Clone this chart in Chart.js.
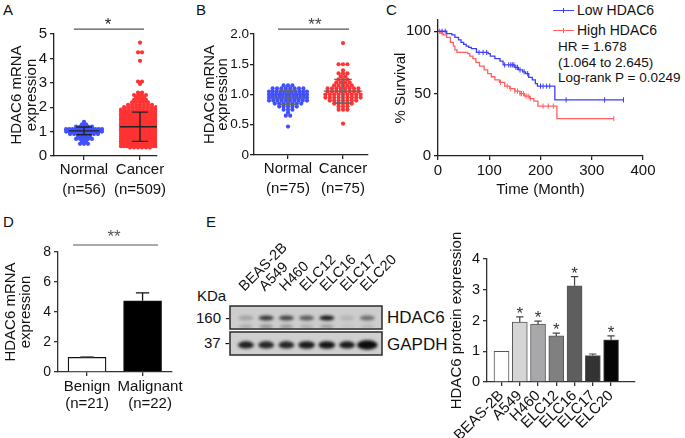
<!DOCTYPE html>
<html>
<head>
<meta charset="utf-8">
<title>HDAC6 expression in lung cancer</title>
<script src="https://cdn.jsdelivr.net/npm/chart.js@4.4.1/dist/chart.umd.min.js"></script>
<style>
  body { margin: 0; background: #fff; }
  #fig { position: relative; width: 685px; height: 438px; overflow: hidden; font-family: 'Liberation Sans', Arial, sans-serif; color: #111; }
  #fig canvas { position: absolute; }
  .t { position: absolute; white-space: nowrap; line-height: 1; }
  .key { position: absolute; width: 21px; height: 0; border-top: 1.3px solid; }
  .key i { position: absolute; left: 10px; top: -3.5px; height: 5px; border-left: 1px solid; }
</style>
</head>
<body>
<div id="fig">
  <div class="t" style="left:3px;top:2px;font-size:15px">A</div>
  <div class="t" style="left:196px;top:2px;font-size:15px">B</div>
  <div class="t" style="left:386px;top:2px;font-size:15px">C</div>
  <div class="t" style="left:3px;top:214px;font-size:15px">D</div>
  <div class="t" style="left:206px;top:214px;font-size:15px">E</div>

  <!-- KM legend and stats -->
  <div class="key" style="left:553px;top:10px;border-color:#3c3cff;color:#3c3cff"><i></i></div>
  <div class="t" style="left:577px;top:3px;font-size:14px">Low HDAC6</div>
  <div class="key" style="left:553px;top:30px;border-color:#ff6060;color:#ff6060"><i></i></div>
  <div class="t" style="left:577px;top:23px;font-size:14px">High HDAC6</div>
  <div class="t" style="left:558px;top:40px;font-size:13.5px">HR = 1.678</div>
  <div class="t" style="left:558px;top:56px;font-size:13.5px">(1.064 to 2.645)</div>
  <div class="t" style="left:558px;top:71px;font-size:13.5px">Log-rank P = 0.0249</div>

  <!-- blot side labels -->
  <div class="t" style="left:197px;top:288px;font-size:15px">KDa</div>
  <div class="t" style="left:196px;top:310px;font-size:15px">160 -</div>
  <div class="t" style="left:204px;top:335px;font-size:15px">37 -</div>
  <div class="t" style="left:387px;top:309px;font-size:17px">HDAC6</div>
  <div class="t" style="left:387px;top:336px;font-size:17px">GAPDH</div>

  <canvas id="chA" width="190" height="195" style="left:0;top:10px"></canvas>
  <canvas id="chB" width="195" height="195" style="left:190px;top:10px"></canvas>
  <canvas id="chC" width="300" height="205" style="left:385px;top:0"></canvas>
  <canvas id="chD" width="200" height="200" style="left:0;top:222px"></canvas>
  <canvas id="chBlot" width="195" height="125" style="left:225px;top:235px"></canvas>
  <canvas id="chE" width="240" height="213" style="left:445px;top:225px"></canvas>
</div>

<script>
// ============ DATA ============
// A: mRNA, dots per expression level
const groupsA = ['Normal', 'Cancer'];
const nA = [56, 509];
const normalALevels = [0.5, 0.6, 0.7, 0.8, 0.9, 1.0, 1.1, 1.2, 1.3, 1.4];
const normalACounts = [3, 2, 5, 4, 8, 14, 12, 5, 2, 1];
const cancerALevels = [0.35, 0.4, 0.5, 0.6, 0.7, 0.8, 0.9, 1.0, 1.1, 1.2, 1.3, 1.4, 1.5, 1.6, 1.7, 1.8, 1.9, 2.0, 2.1, 2.2, 2.3, 2.4, 2.5, 2.6, 2.95, 3.05, 3.9, 4.25, 4.65];
const cancerACounts = [6, 14, 33, 38, 40, 42, 41, 40, 37, 34, 30, 27, 24, 20, 17, 14, 11, 9, 7, 5, 4, 3, 4, 2, 1, 2, 1, 2, 1];
const meanA = [1.03, 1.2];
const sdA = [0.16, 0.6];
const yTicksA = [0, 1, 2, 3, 4, 5];

// B: paired mRNA
const groupsB = ['Normal', 'Cancer'];
const nB = [75, 75];
const normalBLevels = [0.47, 0.65, 0.7, 0.75, 0.8, 0.85, 0.9, 0.95, 1.0, 1.05, 1.1, 1.15];
const normalBCounts = [1, 2, 1, 3, 5, 7, 10, 12, 12, 11, 8, 3];
const cancerBLevels = [0.52, 0.75, 0.8, 0.85, 0.9, 0.95, 1.0, 1.05, 1.1, 1.15, 1.2, 1.25, 1.3, 1.35, 1.4, 1.5, 1.85];
const cancerBCounts = [1, 3, 3, 5, 7, 9, 9, 8, 8, 5, 4, 3, 2, 3, 1, 3, 1];
const meanB = [0.95, 1.055];
const sdB = [0.115, 0.195];
const yTicksB = [0, 0.5, 1.0, 1.5, 2.0];

// C: Kaplan-Meier (time in months, % survival after each step)
const lowTime = [0, 17, 27, 33, 40, 45, 50, 55, 60, 65, 75, 98, 102, 111, 121, 127, 150, 157, 165, 171, 177, 184, 190, 194, 228, 362];
const lowSurv = [100, 98, 97, 95, 93, 91, 89.5, 88, 87, 86, 83, 82, 80, 78, 76, 73, 71, 69, 67.5, 66, 63, 61, 58, 56, 45, 45];
const highTime = [0, 5, 10, 17, 24, 30, 33, 37, 58, 62, 68, 74, 81, 90, 97, 104, 111, 120, 130, 140, 150, 160, 169, 179, 187, 195, 232, 343];
const highSurv = [100, 98.5, 97, 95, 91, 88, 85, 83, 82, 80, 78, 75, 72, 69, 66, 63.5, 61, 59, 56, 54, 52, 50, 48, 46, 44, 40, 30, 30];
const lowCensor = [8, 14, 80, 88, 95, 130, 138, 142, 145, 148, 152, 155, 160, 168, 175, 200, 205, 212, 218, 250, 325, 362];
const highCensor = [3, 8, 122, 135, 141, 150, 155, 160, 163, 167, 172, 176, 180, 205, 215, 225, 343];
const xTicksC = [0, 100, 200, 300, 400];
const yTicksC = [0, 50, 100];

// D: benign vs malignant
const groupsD = ['Benign', 'Malignant'];
const nD = [21, 22];
const valuesD = [0.98, 4.75];
const errD = [0.05, 0.53];
const yTicksD = [0, 2, 4, 6, 8];

// E: cell lines, western blot and quantification
const cellLines = ['BEAS-2B', 'A549', 'H460', 'ELC12', 'ELC16', 'ELC17', 'ELC20'];
const hdac6Band = [0.22, 0.78, 0.72, 0.6, 0.95, 0.12, 0.5];
const hdac6Lower = [0.18, 0.3, 0.28, 0.16, 0.25, 0.06, 0.1];
const gapdhBand = [0.9, 0.88, 0.88, 0.93, 0.96, 0.93, 1.0];
const gapdhSpread = [1, 1, 1, 1.05, 1.05, 1, 1.3];
const proteinE = [1.0, 1.95, 1.88, 1.5, 3.13, 0.86, 1.37];
const errE = [0, 0.17, 0.1, 0.09, 0.3, 0.05, 0.13];
const sigE = [false, true, true, true, true, false, true];
const yTicksE = [0, 1, 2, 3, 4];

// ============ STYLE ============
const INK = '#111';
const AXIS = '#222';
const BLUE = '#4050ff';
const RED = '#ff3333';
const barColorsE = ['#ffffff', '#d5d5d5', '#a8a8ab', '#808080', '#5e5e5e', '#333333', '#050505'];

Chart.defaults.font.family = "'Liberation Sans', Arial, sans-serif";
Chart.defaults.color = INK;
Chart.defaults.animation = false;
Chart.defaults.responsive = false;
Chart.defaults.events = [];
Chart.defaults.plugins.legend.display = false;
Chart.defaults.plugins.tooltip.enabled = false;

// asterisks drawn at data positions
Chart.register({
  id: 'stars',
  afterDatasetsDraw(chart, args, opts) {
    if (!opts.items || !opts.items.length) return;
    const {ctx, scales: {x, y}} = chart;
    ctx.save();
    ctx.font = `${opts.size || 16}px 'Liberation Sans', Arial, sans-serif`;
    ctx.fillStyle = opts.color || '#333';
    ctx.textAlign = 'center';
    ctx.textBaseline = 'alphabetic';
    opts.items.forEach(it => ctx.fillText(it.text, x.getPixelForValue(it.x), y.getPixelForValue(it.y) + (opts.dy || 0)));
    ctx.restore();
  }
});

// ============ HELPERS ============
function swarm(levels, counts, center, step, maxWidth) {
  const pts = [];
  levels.forEach((v, li) => {
    const n = counts[li];
    const sp = n > 1 ? Math.min(step, maxWidth / (n - 1)) : 0;
    for (let i = 0; i < n; i++) pts.push({x: center + (i - (n - 1) / 2) * sp, y: v});
  });
  return pts;
}

function meanSdPoints(centers, means, sds, halfMean, halfCap) {
  const pts = [];
  centers.forEach((c, i) => {
    const m = means[i], hi = m + sds[i], lo = m - sds[i];
    pts.push({x: c - halfMean[i], y: m}, {x: c + halfMean[i], y: m}, {x: c, y: null});
    pts.push({x: c, y: lo}, {x: c, y: hi}, {x: c, y: null});
    pts.push({x: c - halfCap, y: hi}, {x: c + halfCap, y: hi}, {x: c, y: null});
    pts.push({x: c - halfCap, y: lo}, {x: c + halfCap, y: lo}, {x: c, y: null});
  });
  return pts;
}

function errorPoints(xs, vals, errs, cap) {
  const pts = [];
  xs.forEach((x, i) => {
    if (!errs[i]) return;
    const top = vals[i] + errs[i];
    pts.push({x, y: vals[i]}, {x, y: top}, {x, y: null}, {x: x - cap, y: top}, {x: x + cap, y: top}, {x, y: null});
  });
  return pts;
}

function lineSet(data, color, width, extra) {
  return Object.assign({type: 'line', data, showLine: true, borderColor: color, borderWidth: width || 1.3,
    pointRadius: 0, spanGaps: false, fill: false, order: 0}, extra || {});
}

function dotSet(data, color, r) {
  return {type: 'scatter', data, showLine: false, pointRadius: r || 2.1, pointBorderWidth: 0,
    pointBackgroundColor: color, order: 2};
}

function valueAxis(o) {
  return {
    type: 'linear', min: o.min, max: o.max,
    afterFit: s => { s.width = o.w; },
    afterBuildTicks: s => { s.ticks = o.ticks.map(v => ({value: v})); },
    border: {display: true, color: o.axis || AXIS, width: 1.3},
    grid: {drawOnChartArea: false, tickLength: 4, color: o.axis || AXIS, lineWidth: 1.3},
    ticks: {color: INK, font: {size: o.size || 15}, padding: o.pad == null ? 3 : o.pad, callback: o.fmt || (v => v)},
    title: {display: true, text: o.title, color: INK, font: {size: 15, lineHeight: o.lh || 0.95},
      padding: {top: o.tpad, bottom: 0}}
  };
}

function groupAxis(o) {
  return {
    type: 'linear', min: o.min, max: o.max, offset: false,
    afterFit: s => { s.height = o.h; },
    afterBuildTicks: s => { s.ticks = o.ticks.map(v => ({value: v})); },
    border: {display: true, color: o.axis || AXIS, width: 1.3},
    grid: {drawOnChartArea: false, offset: false, tickLength: 4, color: o.axis || AXIS, lineWidth: 1.3},
    ticks: {color: INK, font: {size: o.size || 15, lineHeight: o.lh || 1.33}, padding: o.pad || 0,
      autoSkip: false, minRotation: o.rot || 0, maxRotation: o.rot || 0, callback: o.fmt},
    title: o.title ? {display: true, text: o.title, color: INK, font: {size: 15}, padding: {top: 0, bottom: o.tpad || 0}} : {display: false}
  };
}

// ============ A ============
new Chart(document.getElementById('chA'), {
  type: 'scatter',
  data: {datasets: [
    lineSet(meanSdPoints([1, 2], meanA, sdA, [0.27, 0.36], 0.14), '#222', 1.4),
    dotSet(swarm(normalALevels, normalACounts, 1, 0.071, 0.64), BLUE),
    dotSet(swarm(cancerALevels, cancerACounts, 2, 0.071, 0.68), RED),
    lineSet([{x: 0.82, y: 5.2}, {x: 2.07, y: 5.2}], '#555', 1.1, {clip: false})
  ]},
  options: {
    layout: {padding: {top: 24, right: 33, left: 0, bottom: 0}},
    scales: {
      x: groupAxis({min: 0.464, max: 2.303, h: 49, ticks: [1, 2], pad: 0,
        fmt: v => [groupsA[v - 1], `(n=${nA[v - 1]})`]}),
      y: valueAxis({min: 0, max: 5, w: 54, ticks: yTicksA, tpad: 10, title: ['HDAC6 mRNA', 'expression']})
    },
    plugins: {stars: {items: [{x: 1.43, y: 5.2, text: '*'}], dy: 1, size: 17, color: '#222'}}
  }
});

// ============ B ============
new Chart(document.getElementById('chB'), {
  type: 'scatter',
  data: {datasets: [
    lineSet(meanSdPoints([1, 2], meanB, sdB, [0.31, 0.35], 0.16), '#666', 1.4),
    dotSet(swarm(normalBLevels, normalBCounts, 1, 0.08, 0.69), BLUE, 2.1),
    dotSet(swarm(cancerBLevels, cancerBCounts, 2, 0.08, 0.69), RED, 2.1),
    lineSet([{x: 0.818, y: 2.08}, {x: 2.109, y: 2.08}], '#555', 1.1, {clip: false})
  ]},
  options: {
    layout: {padding: {top: 24, right: 17, left: 0, bottom: 0}},
    scales: {
      x: groupAxis({min: 0.3818, max: 2.4545, h: 50, ticks: [1, 2], pad: 0,
        fmt: v => [groupsB[v - 1], `(n=${nB[v - 1]})`]}),
      y: valueAxis({min: 0, max: 2, w: 64, ticks: yTicksB, tpad: 13, size: 13.5, pad: 1, lh: 0.9,
        title: ['HDAC6 mRNA', 'expression'], fmt: v => v === 0 ? '0' : v.toFixed(1)})
    },
    plugins: {stars: {items: [{x: 1.49, y: 2.08, text: '**'}], dy: 1, size: 17, color: '#444'}}
  }
});

// ============ C ============
const stepAt = (times, surv, t) => {
  let s = surv[0];
  times.forEach((tt, i) => { if (tt <= t) s = surv[i]; });
  return s;
};
const kmBlue = '#3c3cff', kmRed = '#ff6060';
new Chart(document.getElementById('chC'), {
  type: 'scatter',
  data: {datasets: [
    lineSet(lowTime.map((t, i) => ({x: t, y: lowSurv[i]})), kmBlue, 1.3, {stepped: 'before'}),
    lineSet(highTime.map((t, i) => ({x: t, y: highSurv[i]})), kmRed, 1.3, {stepped: 'before'}),
    {type: 'scatter', data: lowCensor.map(t => ({x: t, y: stepAt(lowTime, lowSurv, t)})), pointStyle: 'line',
      rotation: 90, pointRadius: 2.6, pointBorderWidth: 1, pointBorderColor: kmBlue, showLine: false},
    {type: 'scatter', data: highCensor.map(t => ({x: t, y: stepAt(highTime, highSurv, t)})), pointStyle: 'line',
      rotation: 90, pointRadius: 2.6, pointBorderWidth: 1, pointBorderColor: kmRed, showLine: false}
  ]},
  options: {
    layout: {padding: {top: 20, right: 42, left: 0, bottom: 0}},
    scales: {
      x: groupAxis({min: 0, max: 400, h: 49, ticks: xTicksC, pad: 2, lh: 1.2, fmt: v => v,
        title: 'Time (Month)', tpad: 6}),
      y: valueAxis({min: 0, max: 109, w: 53, ticks: yTicksC, tpad: 8, title: '% Survival', lh: 1})
    }
  }
});

// ============ D ============
new Chart(document.getElementById('chD'), {
  type: 'bar',
  data: {datasets: [
    {type: 'bar', data: valuesD.map((v, i) => ({x: i + 1, y: v})), backgroundColor: ['#ffffff', '#000000'],
      borderColor: '#111', borderWidth: 1.3, barThickness: 38, order: 2},
    lineSet(errorPoints([1], [valuesD[0]], [errD[0]], 0.12), '#777', 1.3),
    lineSet(errorPoints([2], [valuesD[1]], [errD[1]], 0.12), '#111', 1.3),
    lineSet([{x: 0.747, y: 8.47}, {x: 2.279, y: 8.47}], '#555', 1.1, {clip: false})
  ]},
  options: {
    layout: {padding: {top: 30, right: 28, left: 0, bottom: 0}},
    scales: {
      x: groupAxis({min: 0.477, max: 2.53, h: 50, ticks: [1, 2], pad: 2, lh: 1.17, axis: '#333',
        fmt: v => v === 2 ? ['\u2002\u2002' + groupsD[1], '\u2002\u2002' + `(n=${nD[1]})`] : [groupsD[0], `(n=${nD[0]})`]}),
      y: valueAxis({min: 0, max: 8, w: 58, ticks: yTicksD, tpad: 3.5, size: 14, axis: '#333',
        title: ['HDAC6 mRNA', 'expression'], lh: 1})
    },
    plugins: {stars: {items: [{x: 1.486, y: 8.47, text: '**'}], dy: -2.5, size: 17, color: '#555'}}
  }
});

// ============ E: blot ============
const blotPlugin = {
  id: 'blot',
  beforeDatasetsDraw(chart) {
    const {ctx, scales: {lanes, y}} = chart;
    const left = chart.chartArea.left, right = chart.chartArea.right;
    const rows = [
      {top: 2, bottom: 1.06, bg: '#cdcdcd', bands: [
        {y: 1.51, alpha: hdac6Band, rx: 7.5, ry: 2.6, spread: null},
        {y: 1.16, alpha: hdac6Lower, rx: 7, ry: 2, spread: null}]},
      {top: 0.94, bottom: 0, bg: '#cfcfcf', bands: [
        {y: 0.41, alpha: gapdhBand, rx: 8, ry: 3.6, spread: gapdhSpread}]}
    ];
    ctx.save();
    rows.forEach(row => {
      const t = y.getPixelForValue(row.top), b = y.getPixelForValue(row.bottom);
      ctx.save();
      ctx.fillStyle = row.bg;
      ctx.fillRect(left, t, right - left, b - t);
      ctx.beginPath();
      ctx.rect(left, t, right - left, b - t);
      ctx.clip();
      ctx.filter = 'blur(1.4px)';
      row.bands.forEach(band => {
        band.alpha.forEach((a, i) => {
          const k = band.spread ? band.spread[i] : 1;
          ctx.fillStyle = `rgba(12,12,12,${a})`;
          ctx.beginPath();
          ctx.ellipse(lanes.getPixelForValue(i), y.getPixelForValue(band.y), band.rx * k, band.ry * k, 0, 0, Math.PI * 2);
          ctx.fill();
        });
      });
      ctx.restore();
      ctx.strokeStyle = '#2a2a2a';
      ctx.lineWidth = 1.5;
      ctx.strokeRect(left, t, right - left, b - t);
    });
    ctx.restore();
  }
};

new Chart(document.getElementById('chBlot'), {
  type: 'scatter',
  data: {datasets: [{data: []}]},
  options: {
    layout: {padding: {top: 0, right: 38, left: 5, bottom: 5}},
    scales: {
      // lane names, set slightly right of the lanes as in the figure
      x: {type: 'linear', position: 'top', min: -1.19, max: 6.33,
        afterFit: s => { s.height = 71; },
        afterBuildTicks: s => { s.ticks = cellLines.map((_, i) => ({value: i})); },
        grid: {display: false}, border: {display: false},
        ticks: {color: INK, font: {size: 14.5}, padding: 3, autoSkip: false, minRotation: 45, maxRotation: 45,
          callback: v => cellLines[v]}},
      lanes: {type: 'linear', axis: 'x', display: false, min: -0.79, max: 6.73},
      y: {display: false, min: 0, max: 2}
    }
  },
  plugins: [blotPlugin]
});

// ============ E: quantification ============
new Chart(document.getElementById('chE'), {
  type: 'bar',
  data: {datasets: [
    {type: 'bar', data: proteinE.map((v, i) => ({x: i, y: v})), backgroundColor: barColorsE,
      borderColor: '#555', borderWidth: 1, barThickness: 15, order: 2},
    lineSet(errorPoints(cellLines.map((_, i) => i), proteinE, errE, 0.2), '#444', 1.2)
  ]},
  options: {
    layout: {padding: {top: 34, right: 50, left: 0, bottom: 0}},
    scales: {
      x: groupAxis({min: -0.795, max: 7.31, h: 56, ticks: cellLines.map((_, i) => i), pad: 1, rot: 45,
        size: 15, lh: 1.2, axis: '#333', fmt: v => cellLines[v]}),
      y: valueAxis({min: 0, max: 4, w: 42, ticks: yTicksE, tpad: 4.5, size: 14.5, axis: '#333',
        title: 'HDAC6 protein expression', lh: 1})
    },
    plugins: {stars: {
      items: proteinE.map((v, i) => ({x: i, y: v + errE[i], text: '*'})).filter((_, i) => sigE[i]),
      dy: 2, size: 17, color: '#333'}}
  }
});
</script>
</body>
</html>
